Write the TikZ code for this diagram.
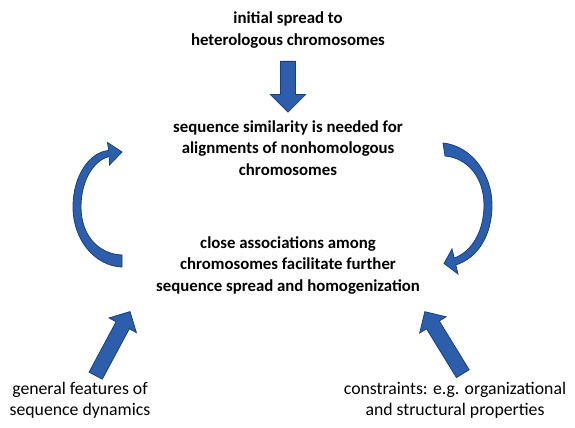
\documentclass[tikz,border=0pt]{standalone}
\usepackage{fontspec}
\setmainfont{Carlito}
\usepackage{tikz}
\usetikzlibrary{shapes.arrows}
\usepackage{xcolor}
\definecolor{arrowblue}{RGB}{44,94,172}
\definecolor{arrowedge}{RGB}{28,62,128}

\begin{document}
\begin{tikzpicture}[x=0.75pt,y=-0.75pt,
  boldtxt/.style={align=center,inner sep=0pt,font=\fontsize{12.6}{16}\selectfont\bfseries},
  plaintxt/.style={align=center,inner sep=0pt,font=\fontsize{13.3}{16}\selectfont},
  blockarrow/.style={single arrow,anchor=tail,fill=arrowblue,draw=arrowedge,line width=0.6pt,inner sep=5.3pt,single arrow head extend=6pt},
  bentarrow/.style={fill=arrowblue,draw=arrowedge,line width=0.6pt}]
  \useasboundingbox (0,0) rectangle (575,428);
  \node[boldtxt] (spread) at (288,30) {initial spread to\\heterologous chromosomes};
  \node[boldtxt] (similar) at (288,148) {sequence similarity is needed for\\alignments of nonhomologous\\chromosomes};
  \node[boldtxt] (assoc) at (288,265.5) {close associations among\\chromosomes facilitate further\\sequence spread and homogenization};
  \node[plaintxt] (general) at (80,400) {general features of\\sequence dynamics};
  \node[plaintxt] (constr) at (455,400) {constraints: e.g. organizational\\and structural properties};
  % straight arrows
  \node[blockarrow,rotate=-90,minimum height=38pt,single arrow head extend=7.5pt] (down) at (288,61) {};
  \node[blockarrow,rotate=61.8,minimum height=54.5pt] (upleft) at (95.5,376) {};
  \node[blockarrow,rotate=121.5,minimum height=54.5pt] (upright) at (463,374) {};
  % bent arrows
  \draw[bentarrow] (122,267) .. controls (95,266) and (73,240) .. (73,207)
    .. controls (73,175) and (90,152) .. (108.7,150.5)
    -- (107.5,142.5) -- (122,152) -- (109.5,165) -- (109.3,156.5)
    .. controls (94,160) and (81,180) .. (81,207)
    .. controls (81,235) and (98,254) .. (122,255) -- cycle;
  \draw[bentarrow] (443,143) .. controls (472,146) and (492,175) .. (492,205)
    .. controls (492,235) and (478,258) .. (455.8,264.9)
    -- (458,274) -- (444,263.5) -- (452,249) -- (454.2,258.1)
    .. controls (473,251) and (484,230) .. (484,205)
    .. controls (484,178) and (468,158) .. (445,156) -- cycle;
\end{tikzpicture}
\end{document}
